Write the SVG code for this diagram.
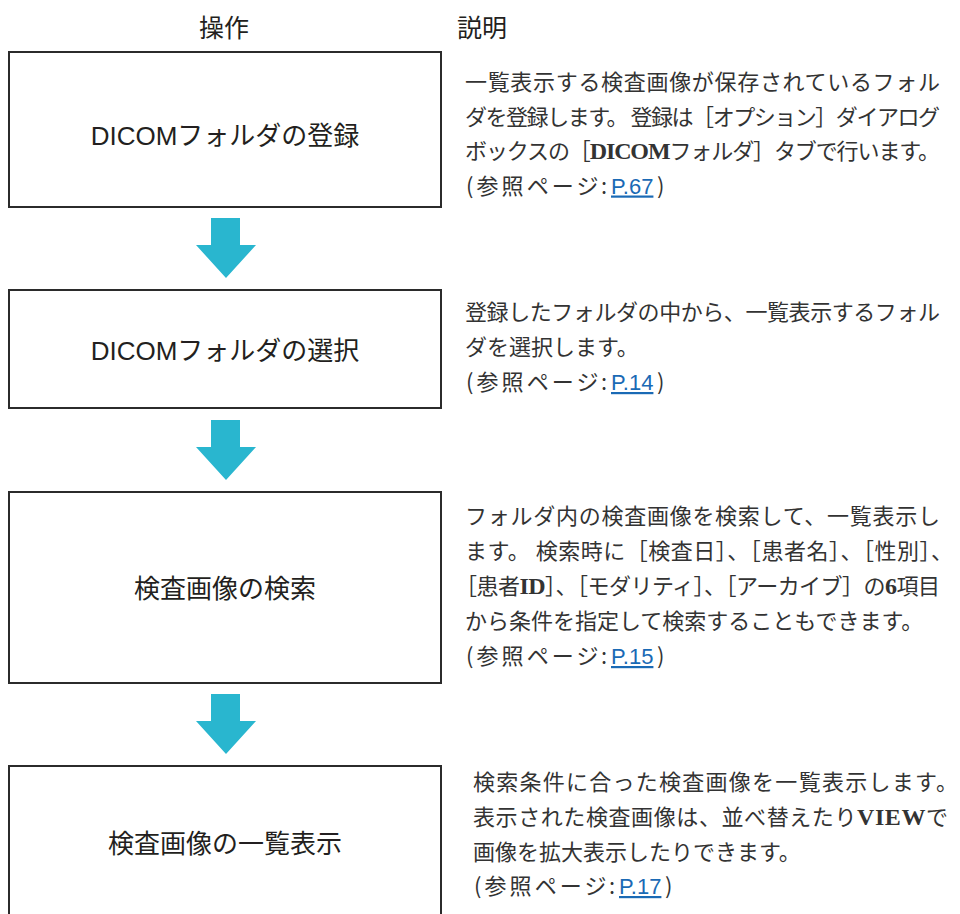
<svg xmlns="http://www.w3.org/2000/svg" width="960" height="914" viewBox="0 0 960 914">
<style>
.bg{fill:#ffffff}
.box{fill:#ffffff;stroke:#2b2b2b;stroke-width:2}
.head{font-family:"Noto Sans CJK JP",sans-serif;font-size:25px;font-weight:normal;fill:#231f20}
.lbl{font-family:"Liberation Sans","Noto Sans CJK JP",sans-serif;font-size:26px;fill:#231f20;text-anchor:middle}
.desc{font-family:"Noto Sans CJK JP",sans-serif;font-size:22px;fill:#333333}
.lat{font-family:"Liberation Serif","Noto Sans CJK JP",serif;font-weight:bold;font-size:24px}
.link{font-family:"Liberation Sans",sans-serif;font-size:22px;fill:#1a6ab5;text-decoration:underline}
.arrow{fill:#29b6cf}
</style>
<defs>
<path id="blockArrow" d="M211 0 H240 V27 H256 L226 60 L196 27 H211 Z"/>
</defs>
<rect class="bg" x="0" y="0" width="960" height="914"/>

<g id="headers">
<text class="head" x="224" y="37" text-anchor="middle">操作</text>
<text class="head" x="457" y="37">説明</text>
</g>

<g id="connectors">
<use href="#blockArrow" class="arrow" y="218"/>
<use href="#blockArrow" class="arrow" y="420"/>
<use href="#blockArrow" class="arrow" y="694"/>
</g>

<g id="node-register">
<rect class="box" x="9" y="52" width="432" height="155"/>
<text class="lbl" x="225" y="145">DICOMフォルダの登録</text>
</g>
<g id="desc-register">
<text class="desc" x="465" y="90" textLength="475">一覧表示する検査画像が保存されているフォル</text>
<text class="desc" x="465" y="124.5" textLength="475">ダを登録します。 登録は［オプション］ダイアログ</text>
<text class="desc" x="465" y="159" textLength="475">ボックスの［<tspan class="lat">DICOM</tspan>フォルダ］タブで行います。</text>
<text class="desc" y="193.5"><tspan x="466">(</tspan><tspan x="476.5" textLength="122">参照ページ</tspan><tspan x="601">:</tspan><tspan class="link" x="611">P.67</tspan><tspan x="657">)</tspan></text>
</g>

<g id="node-select">
<rect class="box" x="9" y="290" width="432" height="118"/>
<text class="lbl" x="225" y="360">DICOMフォルダの選択</text>
</g>
<g id="desc-select">
<text class="desc" x="465" y="320" textLength="475">登録したフォルダの中から、一覧表示するフォル</text>
<text class="desc" x="465" y="355">ダを選択します。</text>
<text class="desc" y="390"><tspan x="466">(</tspan><tspan x="476.5" textLength="122">参照ページ</tspan><tspan x="601">:</tspan><tspan class="link" x="611">P.14</tspan><tspan x="657">)</tspan></text>
</g>

<g id="node-search">
<rect class="box" x="9" y="492" width="432" height="191"/>
<text class="lbl" x="225" y="598">検査画像の検索</text>
</g>
<g id="desc-search">
<text class="desc" x="465" y="524" textLength="475">フォルダ内の検査画像を検索して、一覧表示し</text>
<text class="desc" x="465" y="559" textLength="488">ます。 検索時に［検査日］、［患者名］、［性別］、</text>
<text class="desc" x="455" y="594" textLength="485">［患者<tspan class="lat">ID</tspan>］、［モダリティ］、［アーカイブ］の<tspan class="lat">6</tspan>項目</text>
<text class="desc" x="465" y="629">から条件を指定して検索することもできます。</text>
<text class="desc" y="664"><tspan x="466">(</tspan><tspan x="476.5" textLength="122">参照ページ</tspan><tspan x="601">:</tspan><tspan class="link" x="611">P.15</tspan><tspan x="657">)</tspan></text>
</g>

<g id="node-list">
<rect class="box" x="9" y="766" width="432" height="160"/>
<text class="lbl" x="225" y="853">検査画像の一覧表示</text>
</g>
<g id="desc-list">
<text class="desc" x="473" y="790" textLength="485">検索条件に合った検査画像を一覧表示します。</text>
<text class="desc" x="473" y="825" textLength="475">表示された検査画像は、並べ替えたり<tspan class="lat">VIEW</tspan>で</text>
<text class="desc" x="473" y="860">画像を拡大表示したりできます。</text>
<text class="desc" y="894"><tspan x="474">(</tspan><tspan x="484.5" textLength="122">参照ページ</tspan><tspan x="609">:</tspan><tspan class="link" x="619">P.17</tspan><tspan x="665">)</tspan></text>
</g>
</svg>
